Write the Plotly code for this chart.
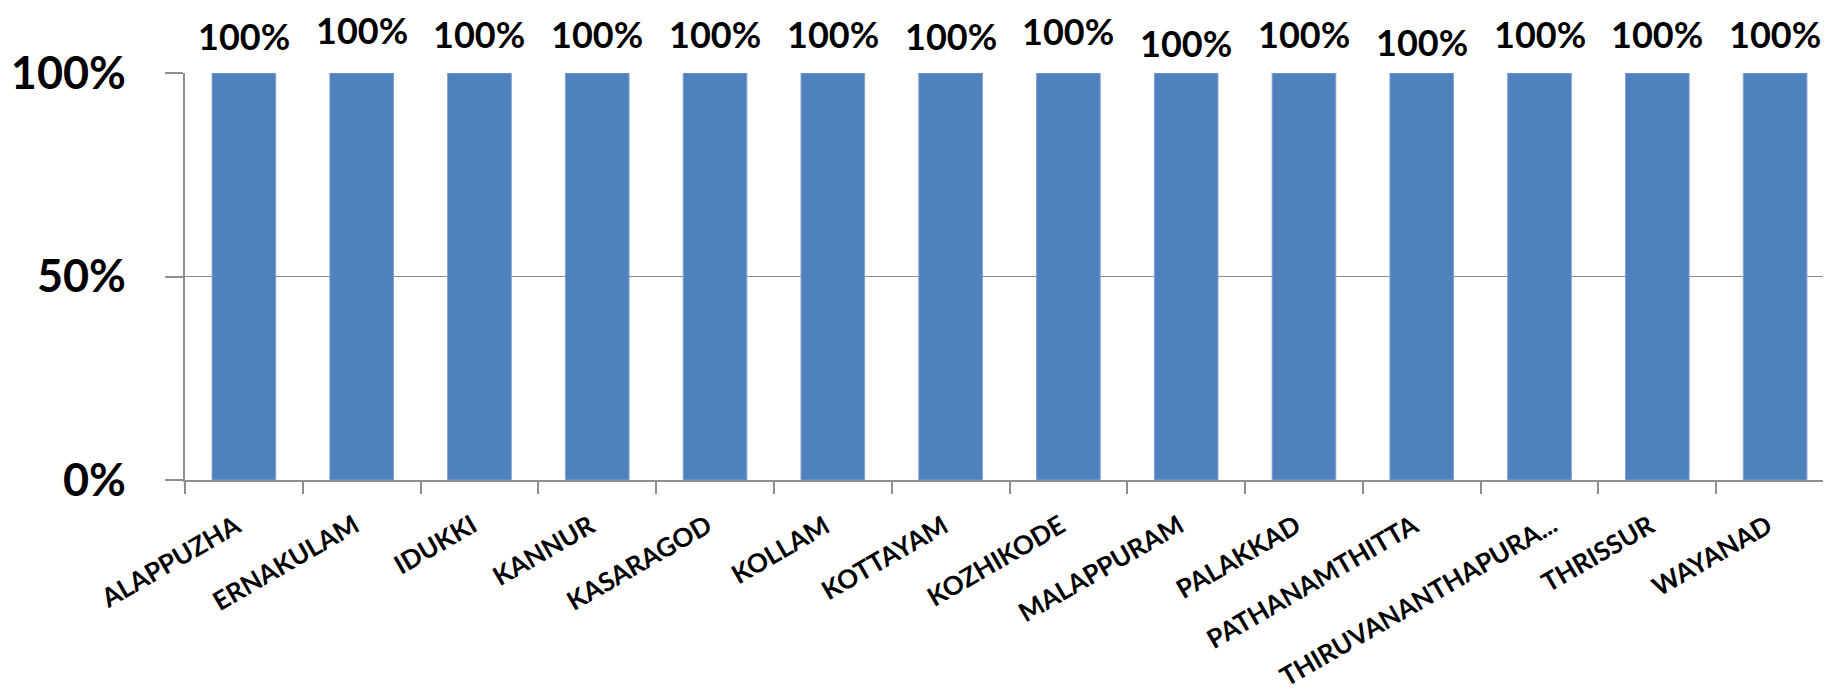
import plotly.graph_objects as go

districts = ["ALAPPUZHA", "ERNAKULAM", "IDUKKI", "KANNUR", "KASARAGOD", "KOLLAM",
             "KOTTAYAM", "KOZHIKODE", "MALAPPURAM", "PALAKKAD", "PATHANAMTHITTA",
             "THIRUVANANTHAPURA...", "THRISSUR", "WAYANAD"]
coverage = [1.0, 1.0, 1.0, 1.0, 1.0, 1.0, 1.0, 1.0, 1.0, 1.0, 1.0, 1.0, 1.0, 1.0]
ytick_vals = [0, 0.5, 1.0]
ytick_text = ["0%", "50%", "100%"]

# small per-label vertical jitter of the value labels, as in the original (pixels)
label_shift = [-2, 4, 0, 0, 0, 0, -2, 3, -9, 0, -8, 0, 0, 0]
# horizontal nudge of the rotated category labels (pixels)
cat_xshift = [0, 0, 0, 0, 0, 0, 0, 0, 0, 0, 0, 20, 0, 0]

FONT = "Lato, 'Open Sans', sans-serif"
BAR = "#4F81BD"
GRID = "#8E8E8E"

fig = go.Figure()
fig.add_trace(go.Bar(
    x=districts, y=coverage,
    marker=dict(color=BAR, line=dict(color="#7FA2CE", width=1)),
    width=0.54,
    hoverinfo="x+y",
))

# value labels above the bars
for d, v, s in zip(districts, coverage, label_shift):
    fig.add_annotation(
        x=d, y=v, text=f"<b>{v:.0%}</b>", showarrow=False,
        yanchor="bottom", yshift=15 + s,
        font=dict(family=FONT, size=36, color="#000000"),
    )

# rotated category labels (upper-right end at the category centre)
for d, dx in zip(districts, cat_xshift):
    fig.add_annotation(
        x=d, y=0, text=f"<b>{d}</b>", showarrow=False,
        textangle=-30, xanchor="right", yanchor="top",
        xshift=5 + dx, yshift=-25,
        font=dict(family=FONT, size=26, color="#000000"),
    )

fig.update_layout(
    width=1831, height=697,
    margin=dict(l=177, r=5, t=65, b=225),
    paper_bgcolor="white", plot_bgcolor="white",
    showlegend=False,
    font=dict(family=FONT, color="#000000"),
)
fig.update_xaxes(
    type="category", automargin=False,
    range=[-0.5, len(districts) - 0.5], autorange=False,
    showline=True, linecolor=GRID, linewidth=2,
    ticks="outside", ticklen=12, tickcolor=GRID, tickwidth=2,
    tickson="boundaries",
    showticklabels=False,
    showgrid=False,
)
fig.update_yaxes(
    range=[0, 1.0], autorange=False, automargin=False,
    tickvals=ytick_vals, ticktext=ytick_text,
    showline=True, linecolor=GRID, linewidth=2,
    ticks="outside", ticklen=18, tickcolor=GRID, tickwidth=2,
    showgrid=True, gridcolor=GRID, gridwidth=1.3,
    zeroline=False,
    tickfont=dict(family=FONT, size=45, color="#000000", weight="bold"),
    ticklabelstandoff=30,
)

fig.write_html("out.html")
